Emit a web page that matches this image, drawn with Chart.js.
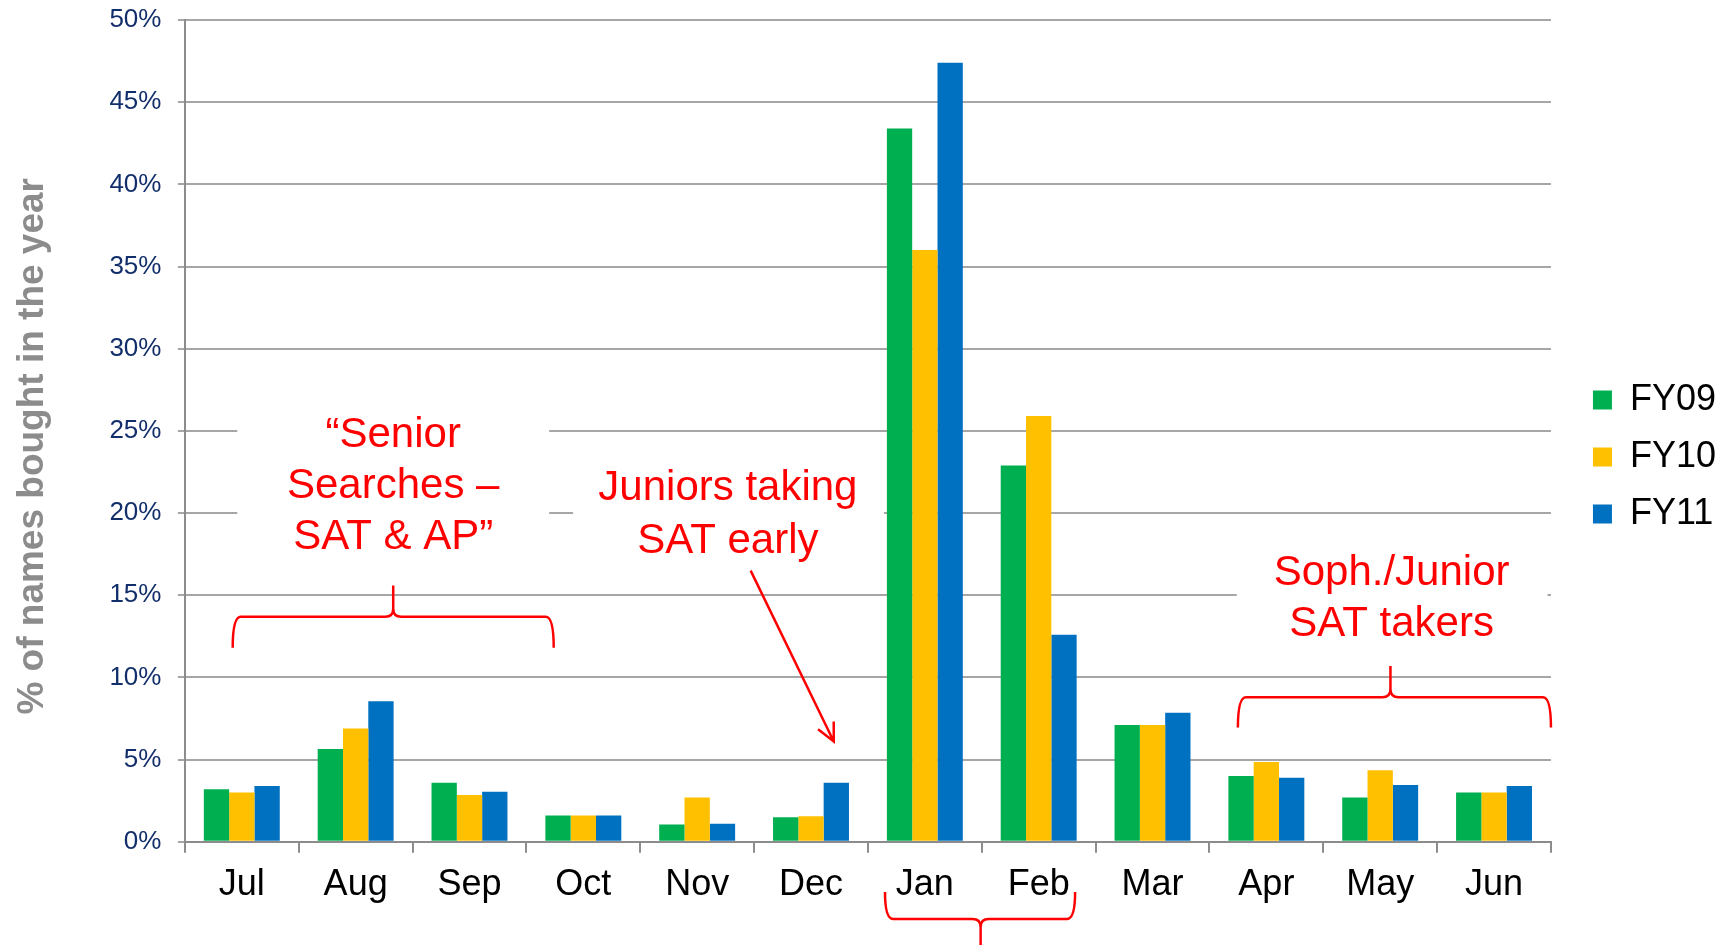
<!DOCTYPE html>
<html>
<head>
<meta charset="utf-8">
<script src="https://cdn.jsdelivr.net/npm/chart.js@4.4.0/dist/chart.umd.min.js"></script>
<style>
  html, body { margin: 0; padding: 0; background: #fff; }
</style>
</head>
<body>
<canvas id="chart" width="1725" height="947"></canvas>
<script>
const months = ['Jul', 'Aug', 'Sep', 'Oct', 'Nov', 'Dec', 'Jan', 'Feb', 'Mar', 'Apr', 'May', 'Jun'];
const seriesNames = ['FY09', 'FY10', 'FY11'];
const fy09 = [3.2, 5.65, 3.6, 1.6, 1.05, 1.5, 43.4, 22.9, 7.1, 4.0, 2.7, 3.0];
const fy10 = [3.0, 6.9, 2.85, 1.6, 2.7, 1.55, 36.0, 25.9, 7.1, 4.85, 4.35, 3.0];
const fy11 = [3.4, 8.55, 3.05, 1.6, 1.1, 3.6, 47.4, 12.6, 7.85, 3.9, 3.45, 3.4];
const yMax = 50;
const yStep = 5;

const FONT = '"Liberation Sans", Arial, sans-serif';
const colors = ['#00B050', '#FFC000', '#0070C0'];
const RED = '#FF0000';

// call-outs, in category units (0 = Jul) and axis values (%)
const notes = [
  { lines: ['\u201cSenior', 'Searches \u2013', 'SAT & AP\u201d'], x: 1.33, y: [24.7, 21.6, 18.5], box: [-0.04, 2.70, 26.8, 16.5] },
  { lines: ['Juniors taking', 'SAT early'], x: 4.27, y: [21.5, 18.3], box: [2.91, 5.64, 23.5, 16.0] },
  { lines: ['Soph./Junior', 'SAT takers'], x: 10.1, y: [16.3, 13.2], box: [8.74, 11.47, 19.0, 11.5] }
];
// braces: x0, x1, xc, end, bar, tip
const braces = [
  [-0.08, 2.74, 1.33, 11.8, 13.7, 15.6],
  [8.75, 11.5, 10.09, 6.95, 8.8, 10.7],
  [5.65, 7.32, 6.49, -3.05, -4.69, -6.28]
];
const arrow = [4.47, 16.5, 5.20, 6.1];

function pos(chart, c, v) {
  const x = chart.scales.x, y = chart.scales.y;
  const step = x.getPixelForValue(1) - x.getPixelForValue(0);
  return [x.getPixelForValue(0) + c * step, y.getPixelForValue(v)];
}

function drawBrace(ctx, chart, b) {
  const [x0] = pos(chart, b[0], 0);
  const [x1] = pos(chart, b[1], 0);
  const [xc] = pos(chart, b[2], 0);
  const yE = pos(chart, 0, b[3])[1];
  const yH = pos(chart, 0, b[4])[1];
  const yP = pos(chart, 0, b[5])[1];
  const r = 8;
  const s = Math.sign(yP - yH);
  ctx.beginPath();
  ctx.moveTo(x0, yE);
  ctx.quadraticCurveTo(x0, yH, x0 + r, yH);
  ctx.lineTo(xc - r, yH);
  ctx.quadraticCurveTo(xc, yH, xc, yH + s * r);
  ctx.lineTo(xc, yP);
  ctx.moveTo(xc, yH + s * r);
  ctx.quadraticCurveTo(xc, yH, xc + r, yH);
  ctx.lineTo(x1 - r, yH);
  ctx.quadraticCurveTo(x1, yH, x1, yE);
  ctx.stroke();
}

const callouts = {
  id: 'callouts',
  afterLayout(chart) {
    // nudge the legend away from the plot, like the original
    const lg = chart.legend;
    lg.left += 21; lg.right += 21;
    lg.top -= 12; lg.bottom -= 12;
  },
  beforeDatasetsDraw(chart) {
    const ctx = chart.ctx;
    ctx.save();
    ctx.fillStyle = '#fff';
    notes.forEach(n => {
      const [l, t] = pos(chart, n.box[0], n.box[2]);
      const [r, b] = pos(chart, n.box[1], n.box[3]);
      ctx.fillRect(l, t, r - l, b - t);
    });
    ctx.restore();
  },
  afterDraw(chart) {
    const ctx = chart.ctx;
    ctx.save();
    ctx.fillStyle = RED;
    ctx.strokeStyle = RED;
    ctx.lineWidth = 2.5;
    ctx.font = '42px ' + FONT;
    ctx.textAlign = 'center';
    ctx.textBaseline = 'middle';
    notes.forEach(n => {
      n.lines.forEach((t, i) => {
        const [x, y] = pos(chart, n.x, n.y[i]);
        ctx.fillText(t, x, y);
      });
    });
    braces.forEach(b => drawBrace(ctx, chart, b));

    const [ax, ay] = pos(chart, arrow[0], arrow[1]);
    const [bx, by] = pos(chart, arrow[2], arrow[3]);
    const ang = Math.atan2(by - ay, bx - ax);
    ctx.beginPath();
    ctx.moveTo(ax, ay);
    ctx.lineTo(bx, by);
    ctx.moveTo(bx - 20 * Math.cos(ang - 0.45), by - 20 * Math.sin(ang - 0.45));
    ctx.lineTo(bx, by);
    ctx.lineTo(bx - 20 * Math.cos(ang + 0.45), by - 20 * Math.sin(ang + 0.45));
    ctx.stroke();
    ctx.restore();
  }
};

new Chart(document.getElementById('chart'), {
  type: 'bar',
  data: {
    labels: months,
    datasets: [fy09, fy10, fy11].map((d, i) => ({
      label: seriesNames[i],
      data: d,
      backgroundColor: colors[i],
      borderWidth: 0,
      barPercentage: 1,
      categoryPercentage: 0.667
    }))
  },
  options: {
    responsive: false,
    devicePixelRatio: 1,
    animation: false,
    layout: { padding: { top: 20, right: 20, bottom: 29, left: 0 } },
    plugins: {
      legend: {
        position: 'right',
        align: 'center',
        labels: {
          boxWidth: 19,
          boxHeight: 19,
          padding: 21,
          color: '#000',
          font: { family: FONT, size: 36 }
        }
      },
      tooltip: { enabled: false }
    },
    scales: {
      x: {
        grid: { drawOnChartArea: false, drawTicks: true, tickLength: 11, color: '#8C8C8C', lineWidth: 2, offset: true },
        border: { color: '#8C8C8C', width: 2 },
        ticks: { color: '#000', font: { family: FONT, size: 36 }, padding: 11, maxRotation: 0 }
      },
      y: {
        min: 0,
        max: yMax,
        ticks: {
          stepSize: yStep,
          // trailing spaces keep the gap to the axis without padding the top
          callback: v => v + '%  ',
          color: '#132F6B',
          font: { family: FONT, size: 26 },
          padding: 2
        },
        grid: { color: '#A6A6A6', lineWidth: 2, tickLength: 7 },
        border: { color: '#8C8C8C', width: 2 },
        title: {
          display: true,
          text: '% of names bought in the year   ',
          color: '#8C8C8C',
          font: { family: FONT, size: 37, weight: 'bold' },
          padding: { top: 11, bottom: 52 }
        }
      }
    }
  },
  plugins: [callouts]
});
</script>
</body>
</html>
